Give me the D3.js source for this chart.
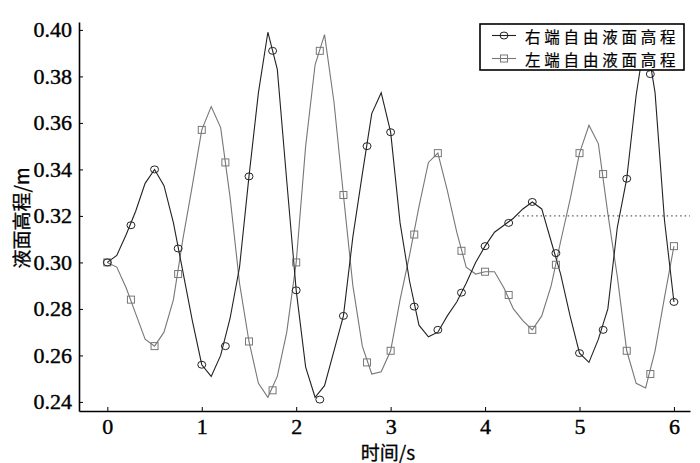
<!DOCTYPE html>
<html>
<head>
<meta charset="utf-8">
<script src="https://cdn.jsdelivr.net/npm/d3@7"></script>
<style>
  body { margin: 0; background: #fff; }
  svg { display: block; }
</style>
</head>
<body>
<svg width="700" height="463"></svg>
<script>
// time step of the line samples (s)
const lineStep = 0.1
// right end free surface, line samples every 0.1 s
const rightLine = [
    0.300, 0.303, 0.312, 0.322, 0.334, 0.340, 0.333, 0.317, 0.296, 0.275,
    0.256, 0.251, 0.260, 0.276, 0.298, 0.337, 0.373, 0.399, 0.383, 0.335,
    0.288, 0.255, 0.242, 0.247, 0.262, 0.277, 0.311, 0.338, 0.364, 0.373,
    0.356, 0.317, 0.292, 0.273, 0.268, 0.270, 0.277, 0.283, 0.291, 0.300,
    0.307, 0.313, 0.316, 0.319, 0.323, 0.326, 0.323, 0.309, 0.295, 0.277,
    0.261, 0.257, 0.267, 0.280, 0.315, 0.336, 0.372, 0.398, 0.373, 0.318,
    0.283]
// left end free surface, line samples every 0.1 s
const leftLine = [
    0.300, 0.298, 0.289, 0.278, 0.267, 0.264, 0.270, 0.284, 0.310, 0.333,
    0.357, 0.367, 0.358, 0.328, 0.291, 0.266, 0.248, 0.242, 0.251, 0.270,
    0.300, 0.350, 0.385, 0.398, 0.369, 0.329, 0.290, 0.264, 0.252, 0.253,
    0.262, 0.284, 0.303, 0.324, 0.343, 0.347, 0.331, 0.313, 0.298, 0.295,
    0.296, 0.296, 0.289, 0.280, 0.275, 0.271, 0.277, 0.290, 0.309, 0.327,
    0.347, 0.359, 0.351, 0.321, 0.294, 0.262, 0.248, 0.246, 0.262, 0.285,
    0.307]
// marker samples every 0.25 s
const markStep = 0.25
const rightMarks = [0.300, 0.316, 0.340, 0.306, 0.256, 0.264, 0.337, 0.391, 0.288, 0.241,
    0.277, 0.350, 0.356, 0.281, 0.271, 0.287, 0.307, 0.317, 0.326, 0.304,
    0.261, 0.271, 0.336, 0.381, 0.283]
const leftMarks = [0.300, 0.284, 0.264, 0.295, 0.357, 0.343, 0.266, 0.245, 0.300, 0.391,
    0.329, 0.257, 0.262, 0.312, 0.347, 0.305, 0.296, 0.286, 0.271, 0.299,
    0.347, 0.338, 0.262, 0.252, 0.307]
const xTicks = [0, 1, 2, 3, 4, 5, 6]
const yTicks = [0.24, 0.26, 0.28, 0.30, 0.32, 0.34, 0.36, 0.38, 0.40]
const refLevel = 0.32
const refRange = [4.35, 6.17]
const seriesNames = ["右端自由液面高程", "左端自由液面高程"]

const svg = d3.select("svg")
const cjk = "'Noto Sans CJK SC', 'Noto Sans', sans-serif"
const serif = "'Liberation Serif', 'DejaVu Serif', serif"

const x = d3.scaleLinear().domain([-0.3, 6.17]).range([79, 690])
const y = d3.scaleLinear().domain([0.2361, 0.4034]).range([411, 22])

const darkC = "#222"
const greyC = "#777"

// axes
let xAxis = svg.append("g")
    .attr("transform", `translate(0,${y.range()[0]})`)
    .call(d3.axisBottom(x).tickValues(xTicks).tickFormat(d3.format("d"))
        .tickSizeInner(-4).tickSizeOuter(0).tickPadding(7))
let yAxis = svg.append("g")
    .attr("transform", `translate(${x.range()[0]},0)`)
    .call(d3.axisLeft(y).tickValues(yTicks).tickFormat(d3.format(".2f"))
        .tickSizeInner(-4).tickSizeOuter(0).tickPadding(7))

for (let ax of [xAxis, yAxis]) {
    ax.select(".domain").attr("stroke", "#000").attr("stroke-width", 1.6)
    ax.selectAll(".tick line").attr("stroke", "#000").attr("stroke-width", 1)
    ax.selectAll(".tick text")
        .attr("fill", "#000")
        .attr("stroke", "#000").attr("stroke-width", 0.4)
        .style("font-family", serif)
        .style("font-size", "22px")
}

// axis titles
svg.append("text")
    .attr("x", 388).attr("y", 451)
    .attr("text-anchor", "middle")
    .attr("dominant-baseline", "central")
    .attr("stroke", "#000").attr("stroke-width", 0.3)
    .style("font-family", cjk).style("font-size", "19px")
    .text("时间/s")
svg.append("text")
    .attr("transform", "translate(20,218) rotate(-90)")
    .attr("text-anchor", "middle")
    .attr("dominant-baseline", "central")
    .attr("stroke", "#000").attr("stroke-width", 0.3)
    .style("font-family", cjk).style("font-size", "19px")
    .text("液面高程/m")

// lines
const line = d3.line()
    .x((d, i) => x(i * lineStep))
    .y(d => y(d))

svg.append("path").datum(leftLine)
    .attr("d", line).attr("fill", "none")
    .attr("stroke", greyC).attr("stroke-width", 1.1)
svg.append("path").datum(rightLine)
    .attr("d", line).attr("fill", "none")
    .attr("stroke", darkC).attr("stroke-width", 1.1)

// markers
svg.append("g").selectAll("rect")
    .data(leftMarks)
    .join("rect")
    .attr("x", (d, i) => x(i * markStep) - 3.5)
    .attr("y", d => y(d) - 3.5)
    .attr("width", 7).attr("height", 7)
    .attr("fill", "none").attr("stroke", greyC).attr("stroke-width", 1)
svg.append("g").selectAll("ellipse")
    .data(rightMarks)
    .join("ellipse")
    .attr("cx", (d, i) => x(i * markStep))
    .attr("cy", d => y(d))
    .attr("rx", 4).attr("ry", 3.5)
    .attr("fill", "none").attr("stroke", darkC).attr("stroke-width", 1)

// dotted reference level
svg.append("line")
    .attr("x1", x(refRange[0])).attr("x2", x(refRange[1]))
    .attr("y1", y(refLevel)).attr("y2", y(refLevel))
    .attr("stroke", "#333").attr("stroke-width", 1)
    .attr("stroke-dasharray", "1.5,3")

// legend
let legend = svg.append("g").attr("transform", "translate(480,24)")
legend.append("rect")
    .attr("width", 204).attr("height", 46)
    .attr("fill", "#fff").attr("stroke", "#000").attr("stroke-width", 1.6)

seriesNames.forEach((name, i) => {
    let cy = 11.5 + i * 23
    let col = i === 0 ? darkC : greyC
    legend.append("line")
        .attr("x1", 12).attr("x2", 36).attr("y1", cy).attr("y2", cy)
        .attr("stroke", col).attr("stroke-width", 1.1)
    if (i === 0) {
        legend.append("ellipse").attr("cx", 24).attr("cy", cy)
            .attr("rx", 4).attr("ry", 3.5)
            .attr("fill", "none").attr("stroke", col)
    } else {
        legend.append("rect").attr("x", 20.5).attr("y", cy - 3.5)
            .attr("width", 7).attr("height", 7)
            .attr("fill", "none").attr("stroke", col)
    }
    legend.append("text")
        .attr("x", 45).attr("y", cy)
        .attr("dominant-baseline", "central")
        .attr("stroke", "#000").attr("stroke-width", 0.2)
        .style("font-family", cjk).style("font-size", "15.5px")
        .style("letter-spacing", "3.8px")
        .text(name)
})
</script>
</body>
</html>
